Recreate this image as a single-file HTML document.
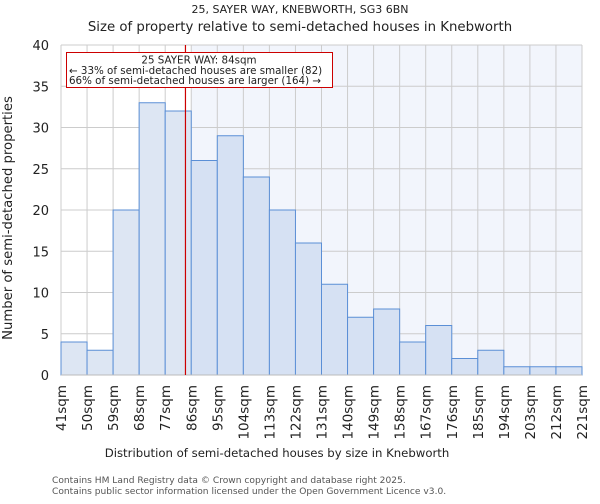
<!DOCTYPE html>
<html><head><meta charset="utf-8"><style>
body{margin:0;background:#fff;font-family:"DejaVu Sans","Liberation Sans",sans-serif;}
svg text{font-family:"DejaVu Sans","Liberation Sans",sans-serif;}
</style></head><body>
<svg id="chart" width="600" height="500" xmlns="http://www.w3.org/2000/svg">
<text x="300" y="13" text-anchor="middle" font-size="11" fill="#222">25, SAYER WAY, KNEBWORTH, SG3 6BN</text>
<text x="300" y="31" text-anchor="middle" font-size="13.3" fill="#222">Size of property relative to semi-detached houses in Knebworth</text>
<g id="grid"></g><g id="bars"></g><g id="axes"></g>
<text transform="translate(12,218) rotate(-90)" text-anchor="middle" font-size="13.2" fill="#222">Number of semi-detached properties</text>
<text x="277" y="457" text-anchor="middle" font-size="11.7" fill="#222">Distribution of semi-detached houses by size in Knebworth</text>
<text x="52" y="483" font-size="9.1" fill="#555">Contains HM Land Registry data © Crown copyright and database right 2025.</text>
<text x="52" y="494" font-size="9.1" fill="#555">Contains public sector information licensed under the Open Government Licence v3.0.</text>
</svg>
<script>
const binStarts=[41,50,59,68,77,86,95,104,113,122,131,140,149,158,167,176,185,194,203,212];
const counts=[4,3,20,33,32,26,29,24,20,16,11,7,8,4,6,2,3,1,1,1];
const xTicks=[41,50,59,68,77,86,95,104,113,122,131,140,149,158,167,176,185,194,203,212,221];
const yTicks=[0,5,10,15,20,25,30,35,40];
const subjectSize=84;
const binW=9;
const NS="http://www.w3.org/2000/svg";
const X0=61,X1=582,Y0=375,Y1=45;
const x=v=>X0+(v-41)/(221-41)*(X1-X0);
const y=v=>Y0-v/40*(Y0-Y1);
function mk(t,a,p){const e=document.createElementNS(NS,t);for(const k in a)e.setAttribute(k,a[k]);p.appendChild(e);return e;}
const grid=document.getElementById('grid'),bars=document.getElementById('bars'),axes=document.getElementById('axes');
const shadeStart=binStarts.find(b=>b>subjectSize);
const sh=mk('rect',{x:x(shadeStart),y:Y1,width:X1-x(shadeStart),height:Y0-Y1,fill:'#f2f5fc'},grid);


xTicks.forEach(t=>{const l=mk('line',{x1:x(t),x2:x(t),y1:Y1,y2:Y0,stroke:'#ccc','stroke-width':1},grid);

});
yTicks.forEach(t=>{const l=mk('line',{x1:X0,x2:X1,y1:y(t),y2:y(t),stroke:'#ccc','stroke-width':1},grid);


const tx=mk('text',{x:X0-12,y:y(t)+5,'text-anchor':'end','font-size':13,fill:'#222'},axes);tx.textContent=t;

});
binStarts.forEach((b,i)=>{const r=mk('rect',{x:x(b),y:y(counts[i]),width:x(b+binW)-x(b),height:Y0-y(counts[i]),fill:b>=shadeStart?'#d6e1f3':'#dde6f3',stroke:'#5b8fd6','stroke-width':1},bars);

});
xTicks.forEach(t=>{const tx=mk('text',{transform:`translate(${x(t)+5},${Y0+10}) rotate(-90)`,'text-anchor':'end','font-size':13.5,fill:'#222'},axes);tx.textContent=t+'sqm';

});
const ax=mk('line',{x1:X0,x2:X1,y1:Y0,y2:Y0,stroke:'#bbb'},axes);


const rl=mk('line',{x1:x(subjectSize),x2:x(subjectSize),y1:Y1,y2:Y0,stroke:'#cc0000','stroke-width':1.2},axes);


const box=mk('rect',{x:66.5,y:52.5,width:266,height:35,fill:'#fff',stroke:'#cc0000','stroke-width':1},axes);


const lines=['25 SAYER WAY: 84sqm','← 33% of semi-detached houses are smaller (82)','66% of semi-detached houses are larger (164) →'];
lines.forEach((s,i)=>{const t=mk('text',{x:i==0?199:69,y:63.5+i*10.3,'text-anchor':i==0?'middle':'start','font-size':10.3,fill:'#222'},axes);t.textContent=s;

});
</script>
</body></html>
